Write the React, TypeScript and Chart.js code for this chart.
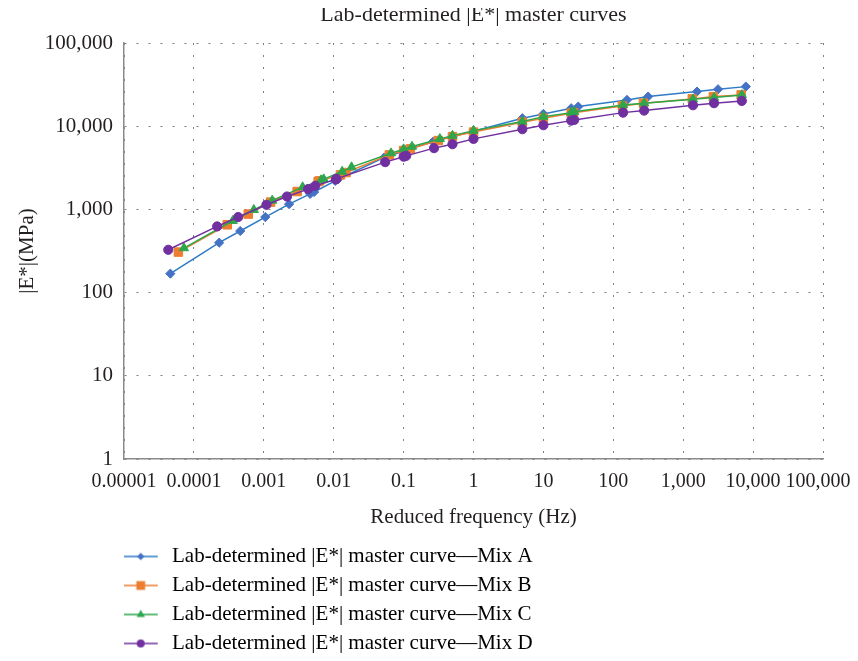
import React, { useEffect, useRef } from 'react';
import { Chart, registerables } from 'chart.js';

Chart.register(...registerables);

const FONT = "'Liberation Serif', 'Times New Roman', serif";
const TEXT_COLOR = '#231f20';
const GRID_COLOR = '#7f7f7f';
const AXIS_COLOR = '#8a8a8a';

const CHART_TITLE = 'Lab-determined |E*| master curves';
const X_TITLE = 'Reduced frequency (Hz)';
const Y_TITLE = '|E*|(MPa)';

const SERIES_NAMES = [
  'Lab-determined |E*| master curve\u2014Mix A',
  'Lab-determined |E*| master curve\u2014Mix B',
  'Lab-determined |E*| master curve\u2014Mix C',
  'Lab-determined |E*| master curve\u2014Mix D',
];

// Mix A
const FREQ_A = [4.6e-5, 2.3e-4, 4.6e-4, 1.05e-3, 2.3e-3, 4.6e-3, 5.25e-3, 0.0105, 0.0115, 0.0525, 0.1, 0.105, 0.2625, 0.5, 1, 5, 10, 25, 31.5, 157, 315, 1575, 3150, 7875];
const MOD_A = [169, 398, 550, 809, 1157, 1538, 1620, 2200, 2300, 4200, 5000, 5150, 6500, 7500, 8700, 12470, 14050, 16440, 17200, 20700, 22700, 26060, 27800, 29900];
// Mix B
const FREQ_B = [6e-5, 3e-4, 6e-4, 1.25e-3, 3e-3, 6e-3, 6.25e-3, 0.0125, 0.015, 0.0625, 0.1, 0.125, 0.3125, 0.5, 1, 5, 10, 25, 27, 135, 270, 1350, 2700, 6750];
const MOD_B = [307, 653, 879, 1224, 1640, 2163, 2200, 2600, 2773, 4520, 5100, 5340, 6720, 7500, 8500, 11170, 12480, 14320, 14500, 17540, 18900, 21280, 22680, 23760];
// Mix C
const FREQ_C = [7.2e-5, 3.6e-4, 7.2e-4, 1.32e-3, 3.6e-3, 6.6e-3, 7.2e-3, 0.0132, 0.018, 0.066, 0.1, 0.132, 0.33, 0.5, 1, 5, 10, 25, 27.6, 138, 276, 1380, 2760, 6900];
const MOD_C = [343, 730, 989, 1280, 1853, 2250, 2310, 2850, 3220, 4740, 5300, 5690, 7040, 7700, 8850, 11360, 13030, 14560, 14900, 18020, 18900, 21090, 22060, 23760];
// Mix D
const FREQ_D = [4.3e-5, 2.15e-4, 4.3e-4, 1.09e-3, 2.15e-3, 4.3e-3, 5.45e-3, 0.01075, 0.0109, 0.0545, 0.1, 0.109, 0.2725, 0.5, 1, 5, 10, 25, 27.6, 138, 276, 1380, 2760, 6900];
const MOD_D = [327, 624, 809, 1136, 1428, 1753, 1920, 2300, 2330, 3700, 4300, 4400, 5450, 6080, 7040, 9200, 10280, 11670, 11900, 14560, 15400, 17860, 18900, 20130];

const X_TICK_VALUES = [1e-5, 1e-4, 1e-3, 1e-2, 1e-1, 1, 10, 100, 1000, 10000, 100000];
const X_TICK_LABELS = ['0.00001', '0.0001', '0.001', '0.01', '0.1', '1', '10', '100', '1,000', '10,000', '100,000'];
const Y_TICK_VALUES = [1, 10, 100, 1000, 10000, 100000];
const Y_TICK_LABELS = ['1', '10', '100', '1,000', '10,000', '100,000'];

const MARKER_COLORS = ['#4472c4', '#ed7d31', '#2ea64b', '#7030a0'];
const LINE_COLORS = ['#2e7bc6', '#ed7d31', '#2ea64b', '#7030a0'];
const POINT_STYLES = ['rectRot', 'rect', 'triangle', 'circle'];
const POINT_RADII = [4.6, 6, 5.3, 4.6];

const FREQS = [FREQ_A, FREQ_B, FREQ_C, FREQ_D];
const MODS = [MOD_A, MOD_B, MOD_C, MOD_D];

const LEGEND_FONT = 21;
const LEGEND_PAD = 8;
const LEGEND_BOX = 29.5;

function drawMarker(g: CanvasRenderingContext2D, style: string, x: number, y: number) {
  g.beginPath();
  if (style === 'rectRot') {
    const r = 3.8;
    g.moveTo(x, y - r); g.lineTo(x + r, y); g.lineTo(x, y + r); g.lineTo(x - r, y); g.closePath();
  } else if (style === 'rect') {
    const h = 4.4;
    g.rect(x - h, y - h, 2 * h, 2 * h);
  } else if (style === 'triangle') {
    const r = 4.8;
    g.moveTo(x, y - r);
    g.lineTo(x + r * Math.sin((2 * Math.PI) / 3), y - r * Math.cos((2 * Math.PI) / 3));
    g.lineTo(x - r * Math.sin((2 * Math.PI) / 3), y - r * Math.cos((2 * Math.PI) / 3));
    g.closePath();
  } else {
    g.arc(x, y, 4, 0, Math.PI * 2);
  }
  g.fill();
}

function makeLegendIcon(i: number): HTMLCanvasElement {
  const w = Math.round(2 * (LEGEND_PAD + LEGEND_BOX / 2));
  const c = document.createElement('canvas');
  c.width = w;
  c.height = 16;
  const g = c.getContext('2d')!;
  g.strokeStyle = LINE_COLORS[i];
  g.lineWidth = 1.5;
  g.beginPath();
  g.moveTo(0, 8);
  g.lineTo(34, 8);
  g.stroke();
  g.fillStyle = MARKER_COLORS[i];
  drawMarker(g, POINT_STYLES[i], 17, 8);
  return c;
}

export default function App() {
  const ref = useRef<HTMLCanvasElement>(null);

  useEffect(() => {
    const canvas = ref.current;
    if (!canvas) return;
    Chart.defaults.font.family = FONT;
    const icons = SERIES_NAMES.map((_, i) => makeLegendIcon(i));

    const datasets = SERIES_NAMES.map((name, i) => ({
      label: name,
      data: FREQS[i].map((f, j) => ({ x: f, y: MODS[i][j] })),
      showLine: true,
      borderColor: LINE_COLORS[i],
      backgroundColor: MARKER_COLORS[i],
      pointBackgroundColor: MARKER_COLORS[i],
      pointBorderColor: MARKER_COLORS[i],
      pointBorderWidth: 1,
      pointStyle: POINT_STYLES[i],
      pointRadius: POINT_RADII[i],
      borderWidth: 1.5,
      tension: 0,
      order: 3 - i,
    }));

    const tickFont = { family: FONT, size: 21, lineHeight: 1.2 };
    const xTickFont = { family: FONT, size: 20, lineHeight: 1.2 };
    const lastX = X_TICK_LABELS.length - 1;

    const chart = new Chart(canvas, {
      type: 'scatter',
      data: { datasets: datasets as any },
      options: {
        responsive: false,
        animation: false,
        devicePixelRatio: 1,
        layout: { padding: { left: 0, right: 27, top: 0, bottom: -11 } },
        scales: {
          x: {
            type: 'logarithmic',
            min: 1e-5,
            max: 1e5,
            afterBuildTicks: (s: any) => {
              s.ticks = X_TICK_VALUES.map((v) => ({ value: v }));
            },
            afterFit: (s: any) => {
              s.height = 79;
              s.paddingRight = 0;
            },
            ticks: {
              autoSkip: false,
              maxRotation: 0,
              minRotation: 0,
              padding: 11,
              color: TEXT_COLOR,
              font: xTickFont,
              callback: (_v: any, i: number) =>
                i === lastX ? X_TICK_LABELS[i] + '\u2002' : X_TICK_LABELS[i],
            },
            grid: { color: GRID_COLOR, lineWidth: 1, drawTicks: false },
            border: { display: true, color: AXIS_COLOR, width: 1.5, dash: [2, 10] },
            title: {
              display: true,
              text: X_TITLE,
              color: TEXT_COLOR,
              font: tickFont,
              padding: { top: 0, bottom: 8.4 },
            },
          },
          y: {
            type: 'logarithmic',
            min: 1,
            max: 1e5,
            afterBuildTicks: (s: any) => {
              s.ticks = Y_TICK_VALUES.map((v) => ({ value: v }));
            },
            afterFit: (s: any) => {
              s.width = 116;
            },
            ticks: {
              autoSkip: false,
              padding: 11,
              color: TEXT_COLOR,
              font: tickFont,
              callback: (_v: any, i: number) => Y_TICK_LABELS[i],
            },
            grid: { color: GRID_COLOR, lineWidth: 1, drawTicks: false },
            border: { display: true, color: AXIS_COLOR, width: 1.5, dash: [2, 10] },
            title: {
              display: true,
              text: Y_TITLE,
              color: TEXT_COLOR,
              font: tickFont,
              padding: { top: 6.4, bottom: 0 },
            },
          },
        },
        plugins: {
          title: {
            display: true,
            text: CHART_TITLE,
            fullSize: false,
            color: TEXT_COLOR,
            font: { family: FONT, size: 22, lineHeight: 0.7, weight: 'normal' },
            padding: { top: 0, bottom: 19.6 },
          },
          legend: {
            display: true,
            position: 'bottom',
            align: 'start',
            fullSize: false,
            labels: {
              usePointStyle: true,
              pointStyleWidth: LEGEND_BOX,
              padding: LEGEND_PAD,
              color: TEXT_COLOR,
              font: { family: FONT, size: LEGEND_FONT },
              generateLabels: () =>
                SERIES_NAMES.map((name, i) => ({
                  text: name,
                  fillStyle: MARKER_COLORS[i],
                  strokeStyle: LINE_COLORS[i],
                  lineWidth: 0,
                  pointStyle: icons[i] as any,
                  hidden: false,
                  datasetIndex: i,
                })),
            },
          },
          tooltip: { enabled: false },
        },
      } as any,
    });
    return () => chart.destroy();
  }, []);

  return (
    <div style={{ width: 842, height: 645 }}>
      <canvas ref={ref} width={842} height={645} style={{ display: 'block' }} />
    </div>
  );
}
